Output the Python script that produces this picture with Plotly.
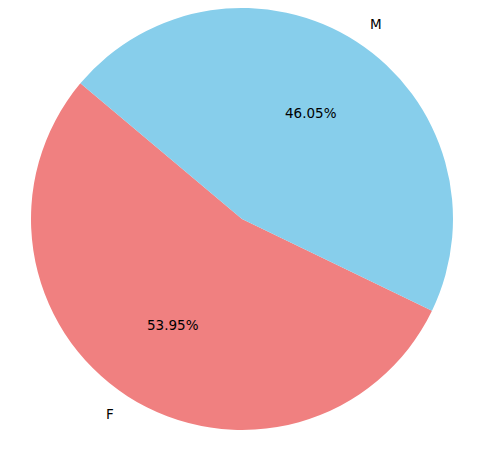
import math
import plotly.graph_objects as go

labels = ["F", "M"]
values = [53.95, 46.05]
colors = ["#F08080", "#87CEEB"]
start_angle = 140  # degrees, counterclockwise from 3 o'clock (first slice starts here)

W, H = 484, 460
off = 8  # page body margin
cx, cy, r = 242 - off, 219 - off, 211
ml, mr, mt, mb = cx - r, W - cx - r, cy - r, H - cy - r

total = sum(values)
# plotly counterclockwise: rotation marks where the first slice ends
first_span = 360 * values[0] / total

fig = go.Figure(go.Pie(
    labels=labels,
    values=values,
    marker=dict(colors=colors, line=dict(width=0)),
    sort=False,
    direction="counterclockwise",
    rotation=90 - start_angle - first_span,
    textinfo="none",
    hoverinfo="label+percent",
    showlegend=False,
))

font = dict(family="DejaVu Sans", size=13.5, color="black")
ang = start_angle
anns = []
for lab, v in zip(labels, values):
    span = 360 * v / total
    mid = math.radians(ang + span / 2)
    ang += span
    c, s = math.cos(mid), math.sin(mid)
    # percent text at 0.6 r
    px, py = cx + 0.6 * r * c, cy - 0.6 * r * s
    anns.append(dict(x=(px - ml) / (2 * r), y=(H - mb - py) / (2 * r),
                     xref="paper", yref="paper", text=f"{100 * v / total:.2f}%",
                     showarrow=False, font=font, xanchor="center", yanchor="middle"))
    # label at 1.1 r
    lx, ly = cx + 1.1 * r * c, cy - 1.1 * r * s
    anns.append(dict(x=(lx - ml) / (2 * r), y=(H - mb - ly) / (2 * r),
                     xref="paper", yref="paper", text=lab, showarrow=False, font=font,
                     xanchor="left" if c > 0 else "right", yanchor="middle"))

fig.update_layout(
    width=W, height=H,
    margin=dict(l=ml, r=mr, t=mt, b=mb, pad=0),
    paper_bgcolor="white",
    plot_bgcolor="white",
    annotations=anns,
)

fig.write_html("out.html")
